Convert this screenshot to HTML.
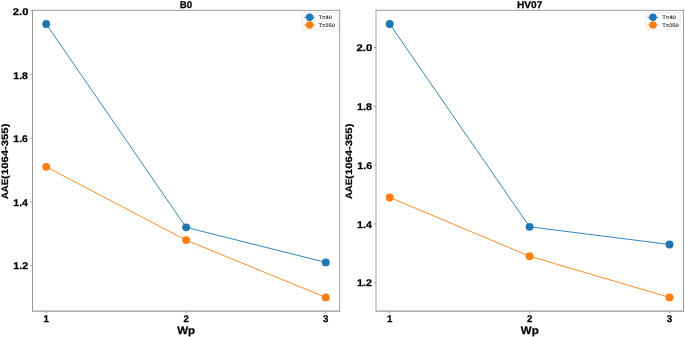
<!DOCTYPE html>
<html><head><meta charset="utf-8"><style>
html,body{margin:0;padding:0;background:#fff;}
body{width:685px;height:337px;overflow:hidden;}
svg{display:block;will-change:transform;}
text{font-family:"Liberation Sans", sans-serif;text-rendering:geometricPrecision;}
.tk{font-size:9.7px;font-weight:bold;fill:#000;stroke:#000;stroke-width:0.25px;}
.ti{font-size:9.8px;font-weight:bold;fill:#000;stroke:#000;stroke-width:0.25px;}
.xl{font-size:10.8px;font-weight:bold;fill:#000;stroke:#000;stroke-width:0.25px;}
.yl{font-size:9.3px;font-weight:bold;fill:#000;stroke:#000;stroke-width:0.2px;}
.lg{font-size:5.0px;fill:#222;stroke:#222;stroke-width:0.12px;}
</style></head><body>
<svg width="685" height="337" viewBox="0 0 685 337">
<rect width="685" height="337" fill="#fff"/>
<line x1="32.5" y1="9.8" x2="32.5" y2="311.7" stroke="#999" stroke-width="1.0"/>
<line x1="339.64" y1="9.8" x2="339.64" y2="311.7" stroke="#aaa" stroke-width="1.1"/>
<line x1="32.0" y1="10.3" x2="340.19" y2="10.3" stroke="#999" stroke-width="1.0"/>
<line x1="32.0" y1="311.15" x2="340.19" y2="311.15" stroke="#999" stroke-width="1.1"/>
<line x1="30.3" y1="10.83" x2="32.5" y2="10.83" stroke="#888" stroke-width="0.8"/>
<text x="28.4" y="15.23" text-anchor="end" class="tk" textLength="15.6" lengthAdjust="spacingAndGlyphs">2.0</text>
<line x1="30.3" y1="74.52" x2="32.5" y2="74.52" stroke="#888" stroke-width="0.8"/>
<text x="27.9" y="78.87" text-anchor="end" class="tk" textLength="14.6" lengthAdjust="spacingAndGlyphs">1.8</text>
<line x1="30.3" y1="138.2" x2="32.5" y2="138.2" stroke="#888" stroke-width="0.8"/>
<text x="27.9" y="141.75" text-anchor="end" class="tk" textLength="14.6" lengthAdjust="spacingAndGlyphs">1.6</text>
<line x1="30.3" y1="201.89" x2="32.5" y2="201.89" stroke="#888" stroke-width="0.8"/>
<text x="27.9" y="206.14" text-anchor="end" class="tk" textLength="14.6" lengthAdjust="spacingAndGlyphs">1.4</text>
<line x1="30.3" y1="265.57" x2="32.5" y2="265.57" stroke="#888" stroke-width="0.8"/>
<text x="28.15" y="269.37" text-anchor="end" class="tk" textLength="14.8" lengthAdjust="spacingAndGlyphs">1.2</text>
<line x1="46.2" y1="311.15" x2="46.2" y2="313.34999999999997" stroke="#888" stroke-width="0.8"/>
<text x="46.2" y="321.65" text-anchor="middle" class="tk">1</text>
<line x1="186.1" y1="311.15" x2="186.1" y2="313.34999999999997" stroke="#888" stroke-width="0.8"/>
<text x="186.1" y="321.65" text-anchor="middle" class="tk">2</text>
<line x1="325.8" y1="311.15" x2="325.8" y2="313.34999999999997" stroke="#888" stroke-width="0.8"/>
<text x="325.8" y="321.65" text-anchor="middle" class="tk">3</text>
<polyline points="46.2,23.95 186.1,227.36 325.8,262.39" fill="none" stroke="#1f77b4" stroke-width="0.9"/>
<polyline points="46.2,166.86 186.1,240.1 325.8,297.41" fill="none" stroke="#ff7f0e" stroke-width="0.9"/>
<circle cx="46.2" cy="23.95" r="3.95" fill="#1f77b4"/>
<circle cx="186.1" cy="227.36" r="3.95" fill="#1f77b4"/>
<circle cx="325.8" cy="262.39" r="3.95" fill="#1f77b4"/>
<circle cx="46.2" cy="166.86" r="3.95" fill="#ff7f0e"/>
<circle cx="186.1" cy="240.1" r="3.95" fill="#ff7f0e"/>
<circle cx="325.8" cy="297.41" r="3.95" fill="#ff7f0e"/>
<text x="186.07" y="7.9" text-anchor="middle" class="ti" textLength="12.4" lengthAdjust="spacingAndGlyphs">B0</text>
<text x="186.07" y="333.6" text-anchor="middle" class="xl" textLength="17.8" lengthAdjust="spacingAndGlyphs">Wp</text>
<g transform="translate(8.1,0) rotate(-90)"><text x="-199.1" y="0" class="yl" textLength="20.19999999999999" lengthAdjust="spacingAndGlyphs">AAE</text><text x="-178.9" y="0" class="yl" textLength="55.30000000000001" lengthAdjust="spacingAndGlyphs">(1064-355)</text></g>
<rect x="302.44" y="12.700000000000001" width="35.5" height="17" rx="1" fill="#fff" fill-opacity="0.8" stroke="#dddddd" stroke-width="0.6"/>
<line x1="304.04" y1="17.3" x2="315.14" y2="17.3" stroke="#1f77b4" stroke-width="0.8"/>
<circle cx="309.64" cy="17.3" r="3.8" fill="#1f77b4"/>
<text x="318.54" y="19.05" class="lg" textLength="13.4" lengthAdjust="spacingAndGlyphs">T=40</text>
<line x1="304.04" y1="25.0" x2="315.14" y2="25.0" stroke="#ff7f0e" stroke-width="0.8"/>
<circle cx="309.64" cy="25.0" r="3.8" fill="#ff7f0e"/>
<text x="318.54" y="26.75" class="lg" textLength="16.3" lengthAdjust="spacingAndGlyphs">T=250</text>
<line x1="376.0" y1="9.8" x2="376.0" y2="311.7" stroke="#aaa" stroke-width="1.1"/>
<line x1="683.46" y1="9.8" x2="683.46" y2="311.7" stroke="#999" stroke-width="1.0"/>
<line x1="375.45" y1="10.3" x2="683.96" y2="10.3" stroke="#999" stroke-width="1.0"/>
<line x1="375.45" y1="311.15" x2="683.96" y2="311.15" stroke="#999" stroke-width="1.1"/>
<line x1="373.8" y1="47.49" x2="376.0" y2="47.49" stroke="#888" stroke-width="0.8"/>
<text x="372.3" y="51.49" text-anchor="end" class="tk" textLength="15.8" lengthAdjust="spacingAndGlyphs">2.0</text>
<line x1="373.8" y1="106.29" x2="376.0" y2="106.29" stroke="#888" stroke-width="0.8"/>
<text x="372.0" y="109.89" text-anchor="end" class="tk" textLength="14.9" lengthAdjust="spacingAndGlyphs">1.8</text>
<line x1="373.8" y1="165.09" x2="376.0" y2="165.09" stroke="#888" stroke-width="0.8"/>
<text x="372.3" y="168.64" text-anchor="end" class="tk" textLength="15.0" lengthAdjust="spacingAndGlyphs">1.6</text>
<line x1="373.8" y1="223.89" x2="376.0" y2="223.89" stroke="#888" stroke-width="0.8"/>
<text x="371.9" y="227.89" text-anchor="end" class="tk" textLength="14.9" lengthAdjust="spacingAndGlyphs">1.4</text>
<line x1="373.8" y1="282.69" x2="376.0" y2="282.69" stroke="#888" stroke-width="0.8"/>
<text x="372.0" y="286.49" text-anchor="end" class="tk" textLength="15.0" lengthAdjust="spacingAndGlyphs">1.2</text>
<line x1="389.7" y1="311.15" x2="389.7" y2="313.34999999999997" stroke="#888" stroke-width="0.8"/>
<text x="389.7" y="321.65" text-anchor="middle" class="tk">1</text>
<line x1="529.6" y1="311.15" x2="529.6" y2="313.34999999999997" stroke="#888" stroke-width="0.8"/>
<text x="529.6" y="321.65" text-anchor="middle" class="tk">2</text>
<line x1="669.5" y1="311.15" x2="669.5" y2="313.34999999999997" stroke="#888" stroke-width="0.8"/>
<text x="669.5" y="321.65" text-anchor="middle" class="tk">3</text>
<polyline points="389.7,23.97 529.6,226.83 669.5,244.47" fill="none" stroke="#1f77b4" stroke-width="0.9"/>
<polyline points="389.7,197.43 529.6,256.23 669.5,297.39" fill="none" stroke="#ff7f0e" stroke-width="0.9"/>
<circle cx="389.7" cy="23.97" r="3.95" fill="#1f77b4"/>
<circle cx="529.6" cy="226.83" r="3.95" fill="#1f77b4"/>
<circle cx="669.5" cy="244.47" r="3.95" fill="#1f77b4"/>
<circle cx="389.7" cy="197.43" r="3.95" fill="#ff7f0e"/>
<circle cx="529.6" cy="256.23" r="3.95" fill="#ff7f0e"/>
<circle cx="669.5" cy="297.39" r="3.95" fill="#ff7f0e"/>
<text x="529.73" y="7.9" text-anchor="middle" class="ti" textLength="25.4" lengthAdjust="spacingAndGlyphs">HV07</text>
<text x="529.73" y="333.6" text-anchor="middle" class="xl" textLength="17.8" lengthAdjust="spacingAndGlyphs">Wp</text>
<g transform="translate(351.6,0) rotate(-90)"><text x="-199.1" y="0" class="yl" textLength="20.19999999999999" lengthAdjust="spacingAndGlyphs">AAE</text><text x="-178.9" y="0" class="yl" textLength="55.30000000000001" lengthAdjust="spacingAndGlyphs">(1064-355)</text></g>
<rect x="645.76" y="12.700000000000001" width="34.5" height="17" rx="1" fill="#fff" fill-opacity="0.8" stroke="#dddddd" stroke-width="0.6"/>
<line x1="647.36" y1="17.3" x2="658.46" y2="17.3" stroke="#1f77b4" stroke-width="0.8"/>
<circle cx="652.96" cy="17.3" r="3.8" fill="#1f77b4"/>
<text x="662.16" y="19.05" class="lg" textLength="13.8" lengthAdjust="spacingAndGlyphs">T=40</text>
<line x1="647.36" y1="25.0" x2="658.46" y2="25.0" stroke="#ff7f0e" stroke-width="0.8"/>
<circle cx="652.96" cy="25.0" r="3.8" fill="#ff7f0e"/>
<text x="662.16" y="26.75" class="lg" textLength="16.6" lengthAdjust="spacingAndGlyphs">T=250</text>
</svg>
</body></html>
